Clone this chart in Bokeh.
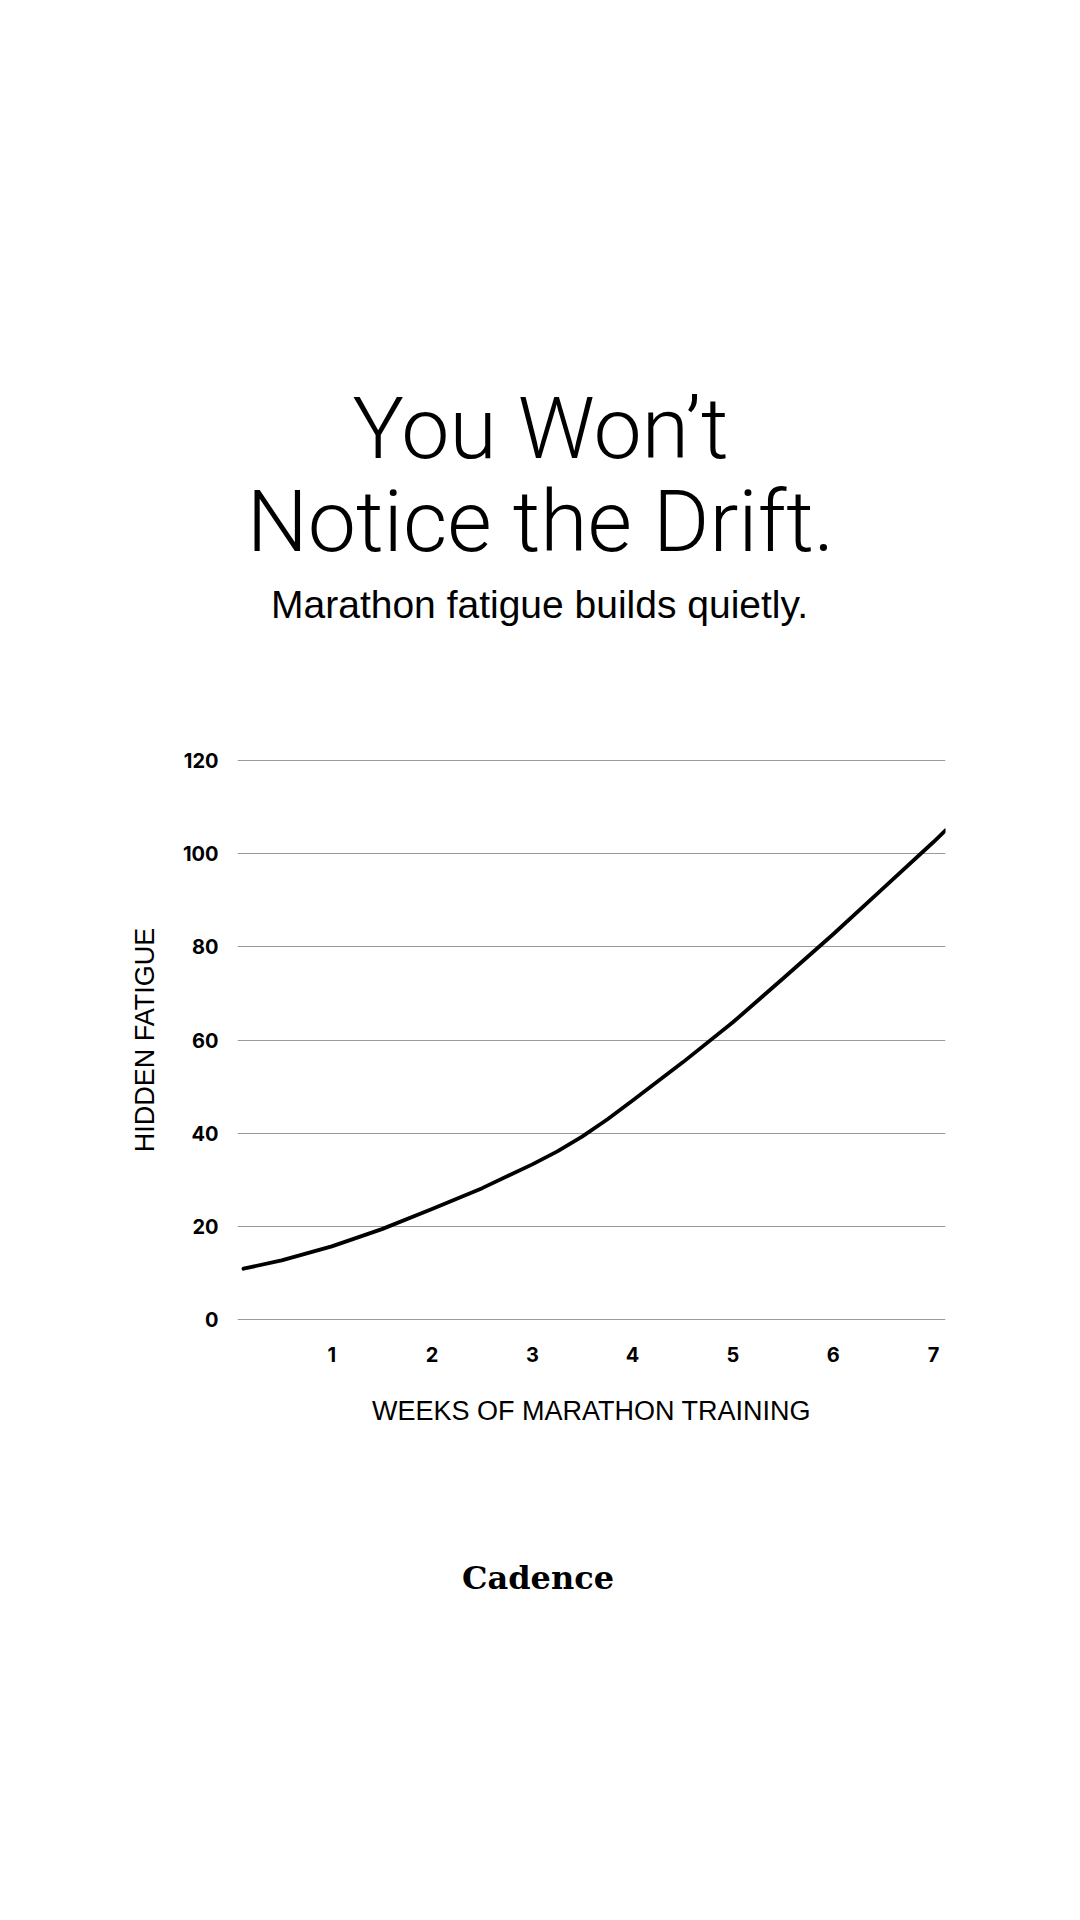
from bokeh.plotting import figure
from bokeh.layouts import column
from bokeh.models import Range1d, FixedTicker
from bokeh.core.properties import value
from bokeh.embed import file_html
from bokeh.resources import INLINE

# ---- data ----
weeks = [0.12, 0.5, 1, 1.5, 2, 2.5, 3, 3.25, 3.5, 3.75, 4, 4.5, 5, 5.5, 6, 6.5, 7, 7.12]
fatigue = [10.9, 12.7, 15.7, 19.4, 23.7, 28.2, 33.3, 36.1, 39.3, 43.0, 47.0, 55.2, 63.8, 73.2, 82.7, 92.6, 102.5, 105.0]
x_ticks = [1, 2, 3, 4, 5, 6, 7]
y_ticks = [0, 20, 40, 60, 80, 100, 120]
title_lines = ["You Won\u2019t", "Notice the Drift."]
subtitle = "Marathon fatigue builds quietly."
x_label = "WEEKS OF MARATHON TRAINING"
y_label = "HIDDEN FATIGUE"
brand = "Cadence"

W = 1064
TOP_H = 700
CHART_H = 780
BOT_H = 1904 - TOP_H - CHART_H
FRAME_LEFT = 237
FRAME_W = 708
FRAME_RIGHT = W - FRAME_LEFT - FRAME_W


def blank(h):
    # same horizontal borders as the chart, so the column aligns them;
    # data units equal page pixels
    f = figure(width=W, height=h, frame_width=FRAME_W, frame_height=h,
               output_backend="svg", toolbar_location=None,
               x_range=Range1d(FRAME_LEFT, FRAME_LEFT + FRAME_W), y_range=Range1d(h, 0),
               x_axis_location=None, y_axis_location=None,
               min_border_left=FRAME_LEFT, min_border_right=FRAME_RIGHT,
               min_border_top=0, min_border_bottom=0)
    f.title = None
    f.grid.visible = False
    f.outline_line_color = None
    f.background_fill_color = "white"
    f.border_fill_color = "white"
    return f


# ---- header ----
top = blank(TOP_H)
top.text(x=[540, 540], y=[428.3, 520.6], text=title_lines, text_align="center",
         text_baseline="alphabetic", text_font=value("Roboto Light"),
         text_font_size=value("86px"), text_color="black")
top.text(x=[539], y=[603.5], text=[subtitle], text_align="center",
         text_baseline="alphabetic", text_font=value("Liberation Sans"),
         text_font_size=value("39px"), text_color="black")

# ---- chart ----
FRAME_TOP = 758 - TOP_H
FRAME_H = 563
X0, X1 = 0.06, 7.12
ppy = 559 / 120.0
pad = 2 / ppy
p = figure(width=W, height=CHART_H, output_backend="svg", toolbar_location=None,
           x_range=Range1d(X0, X1), y_range=Range1d(-pad, 120 + pad),
           min_border_left=FRAME_LEFT, min_border_right=FRAME_RIGHT,
           min_border_top=FRAME_TOP, min_border_bottom=CHART_H - FRAME_TOP - FRAME_H)
p.title = None
p.background_fill_color = "white"
p.border_fill_color = "white"
p.outline_line_color = None

for ax in (p.xaxis[0], p.yaxis[0]):
    ax.axis_line_color = None
    ax.major_tick_line_color = None
    ax.minor_tick_line_color = None
    ax.major_tick_out = 0
    ax.major_tick_in = 0
    ax.major_label_text_font = "Inter"
    ax.major_label_text_font_style = "bold"
    ax.major_label_text_font_size = "20px"
    ax.major_label_text_color = "black"
    ax.axis_label_text_font = "Liberation Sans"
    ax.axis_label_text_font_style = "normal"
    ax.axis_label_text_font_size = "27px"
    ax.axis_label_text_color = "black"

p.xaxis.ticker = FixedTicker(ticks=x_ticks)
p.yaxis.ticker = FixedTicker(ticks=y_ticks)
p.xaxis.axis_label = x_label
p.yaxis.axis_label = y_label
p.xaxis.major_label_standoff = 25
p.yaxis.major_label_standoff = 19
p.xaxis.axis_label_standoff = 31
p.yaxis.axis_label_standoff = 20

p.xgrid.visible = False
p.ygrid.ticker = FixedTicker(ticks=y_ticks)
p.ygrid.grid_line_color = "#9a9a9a"
p.ygrid.grid_line_width = 1

p.line(weeks, fatigue, line_color="black", line_width=3.8, line_cap="round", line_join="round")

# ---- footer ----
bot = blank(BOT_H)
bot.text(x=[537.5], y=[1577.7 - TOP_H - CHART_H], text=[brand], text_align="center",
         text_baseline="alphabetic", text_font=value("DejaVu Serif"),
         text_font_style="bold", text_font_size=value("32px"), text_color="black")

layout = column(top, p, bot, spacing=0)
open("out.html", "w").write(file_html(layout, INLINE))
